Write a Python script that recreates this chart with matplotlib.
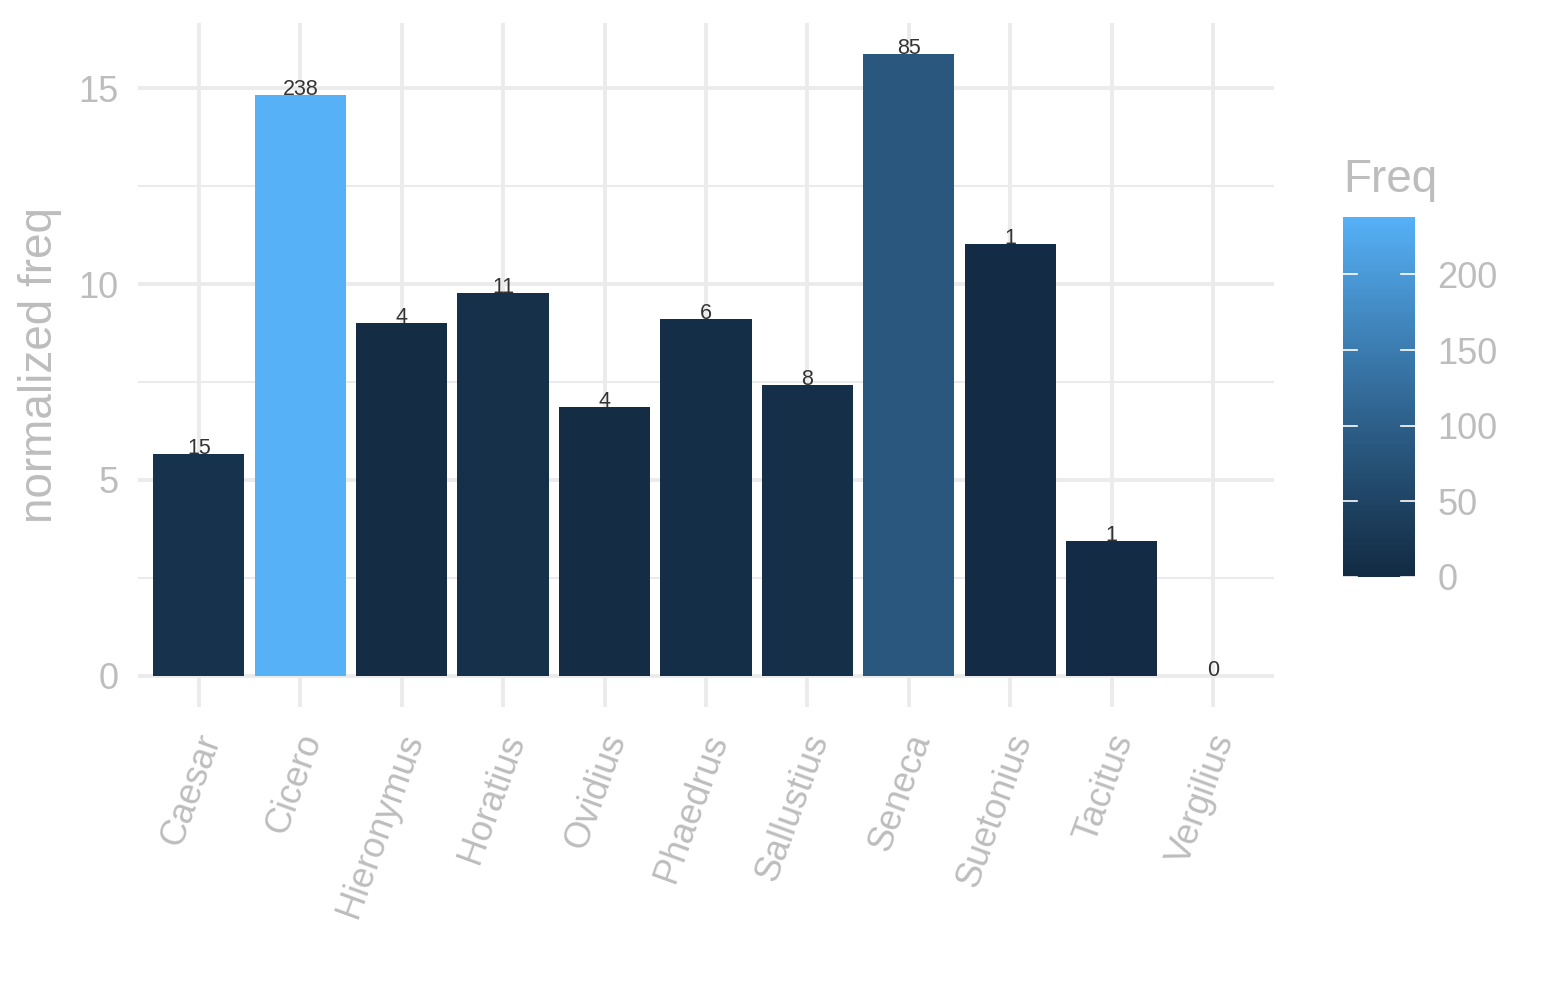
import numpy as np
import matplotlib
matplotlib.use("Agg")
import matplotlib.pyplot as plt
import matplotlib.transforms as mtransforms
from matplotlib.colors import ListedColormap, Normalize

# data
authors = ['Caesar', 'Cicero', 'Hieronymus', 'Horatius', 'Ovidius', 'Phaedrus',
           'Sallustius', 'Seneca', 'Suetonius', 'Tacitus', 'Vergilius']
norm_freq = [5.66, 14.82, 9.0, 9.77, 6.86, 9.11, 7.42, 15.87, 11.02, 3.44, 0.0]
freq = [15, 238, 4, 11, 4, 6, 8, 85, 1, 1, 0]
cbar_ticks = [0, 50, 100, 150, 200]

plt.rcParams['font.family'] = ['Liberation Sans', 'DejaVu Sans']


# ggplot-style gradient (#132B43 -> #56B1F7), interpolated in CIELAB
def srgb_to_lab(c):
    c = np.asarray(c, float)
    lin = np.where(c <= 0.04045, c / 12.92, ((c + 0.055) / 1.055) ** 2.4)
    M = np.array([[0.4124, 0.3576, 0.1805],
                  [0.2126, 0.7152, 0.0722],
                  [0.0193, 0.1192, 0.9505]])
    xyz = M @ lin / np.array([0.95047, 1.0, 1.08883])
    f = np.where(xyz > 0.008856, np.cbrt(xyz), 7.787 * xyz + 16 / 116)
    return np.array([116 * f[1] - 16, 500 * (f[0] - f[1]), 200 * (f[1] - f[2])])


def lab_to_srgb(lab):
    L, a, b = lab
    fy = (L + 16) / 116
    fx = fy + a / 500
    fz = fy - b / 200
    f = np.array([fx, fy, fz])
    xyz = np.where(f ** 3 > 0.008856, f ** 3, (f - 16 / 116) / 7.787)
    xyz = xyz * np.array([0.95047, 1.0, 1.08883])
    Minv = np.array([[3.2406, -1.5372, -0.4986],
                     [-0.9689, 1.8758, 0.0415],
                     [0.0557, -0.2040, 1.0570]])
    lin = Minv @ xyz
    c = np.where(lin <= 0.0031308, 12.92 * lin, 1.055 * np.clip(lin, 0, None) ** (1 / 2.4) - 0.055)
    return np.clip(c, 0, 1)


lo = srgb_to_lab(np.array([0x13, 0x2B, 0x43]) / 255)
hi = srgb_to_lab(np.array([0x56, 0xB1, 0xF7]) / 255)
cmap = ListedColormap([lab_to_srgb(lo + (hi - lo) * t) for t in np.linspace(0, 1, 256)])
norm = Normalize(vmin=min(freq), vmax=max(freq))

grey_txt = '#BDBDBD'
grid_col = '#EBEBEB'

fig = plt.figure(figsize=(15.45, 10), dpi=100)
ax = fig.add_axes([0.0893, 0.293, 0.7353, 0.684])

x = np.arange(1, len(authors) + 1)
ax.bar(x, norm_freq, width=0.9, color=cmap(norm(freq)), zorder=2)
for xi, yi, fi in zip(x, norm_freq, freq):
    ax.text(xi, yi, str(fi), ha='center', va='baseline', fontsize=15.5,
            color='#333333', zorder=3)

ymax = max(norm_freq)
ax.set_xlim(0.4, len(authors) + 0.6)
ax.set_ylim(-0.05 * ymax, 1.05 * ymax)
ax.set_xticks(x)
ax.set_xticklabels([])
# rotated category labels, anchored a little right of each tick
lab_trans = (mtransforms.blended_transform_factory(ax.transData, ax.transAxes)
             + mtransforms.ScaledTranslation(12 / 100, -28 / 100, fig.dpi_scale_trans))
for xi, name in zip(x, authors):
    ax.text(xi, 0, name, transform=lab_trans, rotation=70, ha='right', va='center',
            rotation_mode='anchor', fontsize=26, color=grey_txt)
ax.set_yticks([0, 5, 10, 15])
ax.set_yticks([2.5, 7.5, 12.5], minor=True)
ax.tick_params(axis='y', labelsize=26, labelcolor=grey_txt, length=0, pad=14)
ax.tick_params(axis='x', length=0)
ax.tick_params(which='minor', length=0)
ax.grid(True, which='major', color=grid_col, lw=2.8, zorder=0)
ax.grid(True, which='minor', axis='y', color=grid_col, lw=1.5, zorder=0)
for s in ax.spines.values():
    s.set_visible(False)
ax.set_ylabel('normalized freq', fontsize=33, color=grey_txt, labelpad=12)

# colorbar legend
cax = fig.add_axes([0.8693, 0.423, 0.0466, 0.36])
grad = np.linspace(min(freq), max(freq), 300).reshape(-1, 1)
cax.imshow(grad, cmap=cmap, norm=norm, aspect='auto', origin='lower',
           extent=[0, 1, min(freq), max(freq)])
for t in cbar_ticks:
    cax.plot([0, 0.2], [t, t], color='white', lw=1.2)
    cax.plot([0.8, 1], [t, t], color='white', lw=1.2)
cax.set_xlim(0, 1)
cax.set_ylim(min(freq), max(freq))
cax.set_xticks([])
cax.yaxis.tick_right()
cax.set_yticks(cbar_ticks)
cax.tick_params(axis='y', length=0, labelsize=26, labelcolor=grey_txt, pad=16)
for s in cax.spines.values():
    s.set_visible(False)
cax.set_title('Freq', fontsize=33, color=grey_txt, loc='left', pad=18)

fig.savefig('out.png', dpi=100)
